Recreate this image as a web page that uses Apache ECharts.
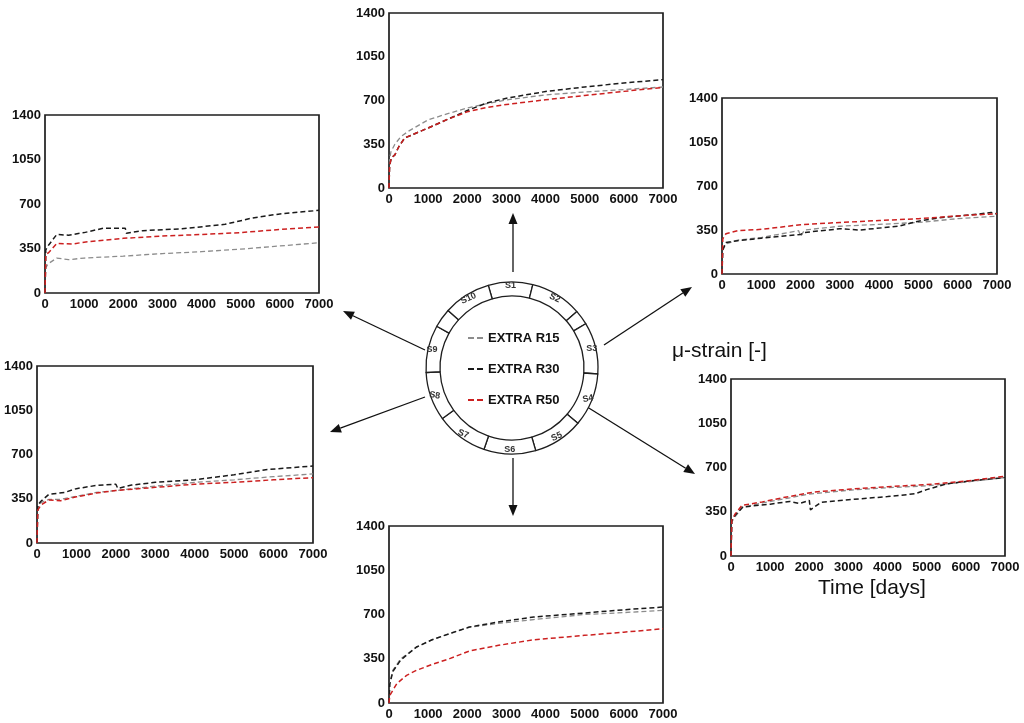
<!DOCTYPE html>
<html>
<head>
<meta charset="utf-8">
<script src="https://cdn.jsdelivr.net/npm/echarts@6/dist/echarts.min.js"></script>
<style>
html,body{margin:0;padding:0;background:#fff;}
#c{width:1024px;height:723px;}
</style>
</head>
<body>
<div id="c"></div>
<script>
// ---------- DATA (day, micro-strain) ----------
const seriesNames = ['EXTRA R15', 'EXTRA R30', 'EXTRA R50'];
const xTicks = {min: 0, max: 7000, step: 1000};
const yTicks = {min: 0, max: 1400, step: 350};

// S1 (top panel)
const S1_R15 = [[0,0],[15,230],[50,290],[150,350],[300,410],[500,455],[1000,545],[1500,595],[2000,640],[2500,675],[3000,705],[4000,745],[5000,768],[6000,788],[7000,808]];
const S1_R30 = [[0,0],[15,180],[60,240],[150,265],[250,330],[400,400],[700,440],[1000,480],[1500,550],[2000,620],[2500,680],[3000,718],[4000,772],[5000,808],[6000,840],[7000,867]];
const S1_R50 = [[0,0],[15,180],[60,240],[150,265],[250,330],[400,400],[700,440],[1000,480],[1500,550],[2000,610],[2500,645],[3000,668],[4000,706],[5000,740],[6000,773],[7000,805]];
// S9 (upper-left panel)
const S9_R15 = [[0,0],[20,200],[80,230],[300,275],[600,262],[1000,275],[2000,290],[3000,310],[4000,325],[5000,345],[6000,370],[7000,395]];
const S9_R30 = [[0,0],[20,340],[100,380],[300,460],[600,455],[1000,475],[1500,510],[2050,510],[2080,470],[2500,490],[3500,505],[4600,540],[5300,590],[6000,622],[7000,650]];
const S9_R50 = [[0,0],[20,300],[100,320],[300,390],[700,385],[1000,400],[2000,430],[3000,448],[4000,460],[5000,475],[6000,500],[7000,520]];
// S3 (upper-right panel)
const S3_R15 = [[0,0],[20,200],[100,240],[400,270],[1000,290],[1950,345],[2000,300],[2100,350],[3000,380],[4000,395],[5000,410],[6000,440],[7000,460]];
const S3_R30 = [[0,0],[20,190],[100,250],[400,265],[1000,285],[2000,315],[2100,330],[3000,360],[3500,350],[4500,380],[5000,420],[5600,450],[6500,475],[6850,490],[7000,478]];
const S3_R50 = [[0,0],[20,280],[100,320],[400,345],[1000,355],[2000,392],[3000,410],[4000,425],[5000,440],[6000,462],[7000,480]];
// S8 (lower-left panel)
const S8_R15 = [[0,0],[20,280],[100,320],[300,345],[600,345],[1000,370],[1500,400],[2000,415],[3000,450],[4000,480],[5000,500],[6000,525],[7000,546]];
const S8_R30 = [[0,0],[20,300],[100,330],[300,385],[700,400],[1000,430],[1500,455],[2000,465],[2050,432],[2400,458],[3000,480],[4000,500],[5000,540],[5800,580],[7000,609]];
const S8_R50 = [[0,0],[20,260],[100,300],[300,340],[600,335],[1000,365],[1500,395],[2000,415],[3000,440],[4000,465],[5000,480],[6000,500],[7000,517]];
// S4 (lower-right panel)
const S4_R15 = [[0,0],[20,270],[100,310],[300,385],[800,420],[1500,460],[2000,490],[3000,520],[4000,540],[5000,555],[6000,585],[7000,621]];
const S4_R30 = [[0,0],[20,280],[100,320],[300,388],[1000,410],[1500,432],[1750,415],[2000,440],[2030,365],[2300,425],[3000,445],[4000,470],[4700,492],[5000,525],[5500,570],[6000,590],[7000,621]];
const S4_R50 = [[0,0],[20,285],[100,330],[280,400],[800,428],[1300,460],[2100,505],[3000,528],[4000,548],[5000,565],[6000,592],[7000,631]];
// S6 (bottom panel)
const S6_R15 = [[0,0],[20,160],[100,260],[300,350],[700,440],[1100,500],[1550,550],[2050,598],[2800,630],[3700,660],[5000,700],[6000,715],[7000,733]];
const S6_R30 = [[0,0],[20,150],[100,250],[300,340],[700,443],[1100,500],[1550,549],[2050,601],[2800,641],[3700,680],[5000,712],[5800,733],[7000,759]];
const S6_R50 = [[0,0],[20,60],[200,153],[450,219],[700,258],[1100,305],[1550,351],[2050,411],[2800,456],[3700,500],[5000,535],[6000,560],[7000,588]];

// Sensor ring schematic (angular spans in degrees, clockwise from S1; label tilt in degrees)
const ringNames = ['S1','S2','','S3','S4','S5','S6','S7','S8','S9','','S10'];
const ringSpans = [30,35,10,35,36,34,35,35,33,32,13,32];
const ringTilt  = [0,-25,0,0,12,25,0,-22,-8,0,0,25];

// ---------- LAYOUT ----------
const panels = [
  {data:[S1_R15,S1_R30,S1_R50], left:389, top:13,  width:274, height:175},
  {data:[S9_R15,S9_R30,S9_R50], left:45,  top:115, width:274, height:178},
  {data:[S3_R15,S3_R30,S3_R50], left:722, top:98,  width:275, height:176},
  {data:[S8_R15,S8_R30,S8_R50], left:37,  top:366, width:276, height:177},
  {data:[S4_R15,S4_R30,S4_R50], left:731, top:379, width:274, height:177},
  {data:[S6_R15,S6_R30,S6_R50], left:389, top:526, width:274, height:177}
];
const colors = ['#8c8c8c', '#1a1a1a', '#cc2020'];
const FONT = '"Liberation Sans", Arial, sans-serif';
const plain = v => String(v);

const grids = [], xAxes = [], yAxes = [], series = [];
panels.forEach((p, i) => {
  grids.push({left:p.left, top:p.top, width:p.width, height:p.height, show:true,
    borderColor:'#1e1e1e', borderWidth:1.7, backgroundColor:'#fff'});
  xAxes.push({type:'value', gridIndex:i, min:xTicks.min, max:xTicks.max, interval:xTicks.step,
    axisLine:{show:false}, axisTick:{show:false}, splitLine:{show:false},
    axisLabel:{margin:5, formatter:plain, fontFamily:FONT, fontWeight:'bold', fontSize:13, color:'#111'}});
  yAxes.push({type:'value', gridIndex:i, min:yTicks.min, max:yTicks.max, interval:yTicks.step,
    axisLine:{show:false}, axisTick:{show:false}, splitLine:{show:false},
    axisLabel:{margin:4, formatter:plain, fontFamily:FONT, fontWeight:'bold', fontSize:13, color:'#111'}});
  p.data.forEach((d, k) => {
    series.push({type:'line', name:seriesNames[k], xAxisIndex:i, yAxisIndex:i, data:d,
      showSymbol:false, symbol:'none', smooth:false, silent:true, animation:false,
      z: k === 2 ? 4 : 3,
      lineStyle:{color:colors[k], width:k===0?1.3:1.5, type:[5,3]},
      itemStyle:{color:colors[k]}});
  });
});

series.push({
  type:'pie', center:[512,368], radius:[72,86], startAngle:106, clockwise:true,
  silent:true, animation:false, avoidLabelOverlap:false,
  data: ringNames.map((n, i) => ({name:n, value:ringSpans[i], label:{rotate:ringTilt[i]}})),
  itemStyle:{color:'#fff', borderColor:'#1e1e1e', borderWidth:1.3},
  label:{show:true, position:'inside', formatter:'{b}',
    fontFamily:FONT, fontSize:9, fontWeight:'bold', color:'#333'},
  labelLine:{show:false},
  emphasis:{disabled:true}
});

// arrows
function arrow(x1, y1, x2, y2) {
  const L = 11, W = 4.5;
  const dx = x2 - x1, dy = y2 - y1, len = Math.hypot(dx, dy);
  const ux = dx / len, uy = dy / len;
  const bx = x2 - ux * L, by = y2 - uy * L;
  return [
    {type:'line', shape:{x1:x1, y1:y1, x2:bx, y2:by}, style:{stroke:'#111', lineWidth:1.3}, silent:true},
    {type:'polygon', shape:{points:[[x2,y2],[bx - uy*W, by + ux*W],[bx + uy*W, by - ux*W]]},
     style:{fill:'#111'}, silent:true}
  ];
}
const graphics = [].concat(
  arrow(513, 272, 513, 213),
  arrow(513, 458, 513, 516),
  arrow(604, 345, 692, 287),
  arrow(425, 350, 343, 311),
  arrow(425, 397, 330, 432),
  arrow(584, 405, 695, 474),
  [
    {type:'text', left:672, top:341, style:{text:'\u03bc-strain [-]', font:'21px ' + FONT, fill:'#111'}},
    {type:'text', left:818, top:578, style:{text:'Time [days]', font:'21px ' + FONT, fill:'#111'}}
  ]
);

const chart = echarts.init(document.getElementById('c'), null, {renderer:'canvas'});
chart.setOption({
  backgroundColor:'#fff',
  animation:false,
  grid:grids, xAxis:xAxes, yAxis:yAxes, series:series,
  legend:{
    data:seriesNames, orient:'vertical', left:463, top:326, itemGap:17,
    itemWidth:15, itemHeight:2, icon:'path://M0,0H6V2H0Z M9,0H15V2H9Z',
    textStyle:{fontFamily:FONT, fontSize:13, fontWeight:'bold', color:'#111', lineHeight:14},
    selectedMode:false
  },
  graphic:graphics
});
</script>
</body>
</html>
